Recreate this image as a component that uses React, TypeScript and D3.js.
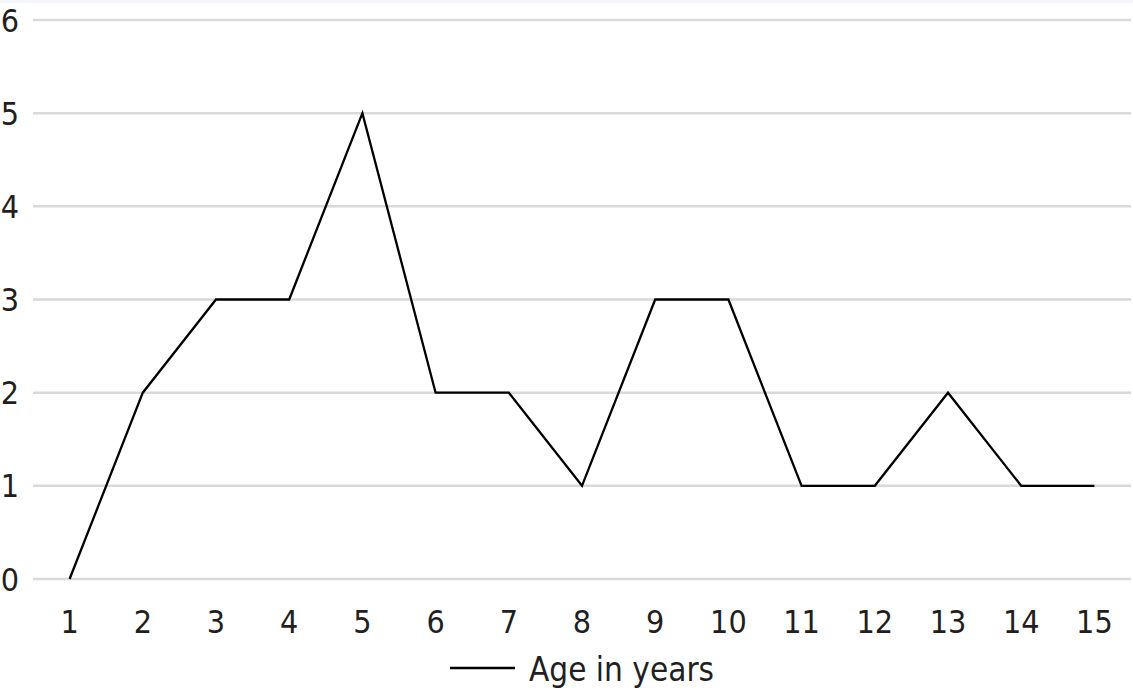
import { useEffect, useRef } from 'react'
import * as d3 from 'd3'

const ages = ['1', '2', '3', '4', '5', '6', '7', '8', '9', '10', '11', '12', '13', '14', '15']
const counts = [0, 2, 3, 3, 5, 2, 2, 1, 3, 3, 1, 1, 2, 1, 1]
const yTicks = [0, 1, 2, 3, 4, 5, 6]
const seriesName = 'Age in years'

const width = 1133
const height = 697
const font = '"DejaVu Sans Condensed", "DejaVu Sans", sans-serif'
const textColor = '#231f20'

export default function App() {
  const svgRef = useRef<SVGSVGElement>(null)

  useEffect(() => {
    if (!svgRef.current) return
    const svg = d3.select(svgRef.current)
    svg.selectAll('*').remove()

    const left = 33
    const right = 1131
    const top = 20
    const bottom = 579

    const x = d3.scaleBand<string>().domain(ages).range([left, right])
    const y = d3.scaleLinear().domain([0, 6]).range([bottom, top])

    // faint strip along the top edge
    svg.append('rect')
      .attr('x', 0).attr('y', 0)
      .attr('width', width).attr('height', 3)
      .attr('fill', '#f4f6fc')

    // gridlines
    svg.append('g')
      .selectAll('line')
      .data(yTicks)
      .enter().append('line')
      .attr('x1', left)
      .attr('x2', right)
      .attr('y1', d => y(d))
      .attr('y2', d => y(d))
      .attr('stroke', '#d9d9d9')
      .attr('stroke-width', 2.5)

    // y labels
    svg.append('g')
      .selectAll('text')
      .data(yTicks)
      .enter().append('text')
      .attr('x', 19)
      .attr('y', d => y(d))
      .attr('dy', '0.36em')
      .attr('text-anchor', 'end')
      .style('font-family', font)
      .style('font-size', '32px')
      .style('fill', textColor)
      .text(d => d)

    // x labels
    svg.append('g')
      .selectAll('text')
      .data(ages)
      .enter().append('text')
      .attr('x', d => (x(d) ?? 0) + x.bandwidth() / 2)
      .attr('y', 633)
      .attr('text-anchor', 'middle')
      .style('font-family', font)
      .style('font-size', '32px')
      .style('fill', textColor)
      .text(d => d)

    const line = d3.line<number>()
      .x((_, i) => (x(ages[i]) ?? 0) + x.bandwidth() / 2)
      .y(d => y(d))

    svg.append('path')
      .datum(counts)
      .attr('d', line)
      .attr('fill', 'none')
      .attr('stroke', '#000')
      .attr('stroke-width', 2.3)
      .attr('stroke-linejoin', 'miter')

    // legend
    const lg = svg.append('g')
    lg.append('line')
      .attr('x1', 450).attr('x2', 515)
      .attr('y1', 668).attr('y2', 668)
      .attr('stroke', '#000')
      .attr('stroke-width', 2.3)
    lg.append('text')
      .attr('x', 529)
      .attr('y', 681)
      .style('font-family', font)
      .style('font-size', '33px')
      .style('fill', textColor)
      .text(seriesName)
  }, [])

  return (
    <svg
      ref={svgRef}
      width={width}
      height={height}
      style={{ position: 'absolute', left: 0, top: 0, background: '#fff' }}
    />
  )
}
